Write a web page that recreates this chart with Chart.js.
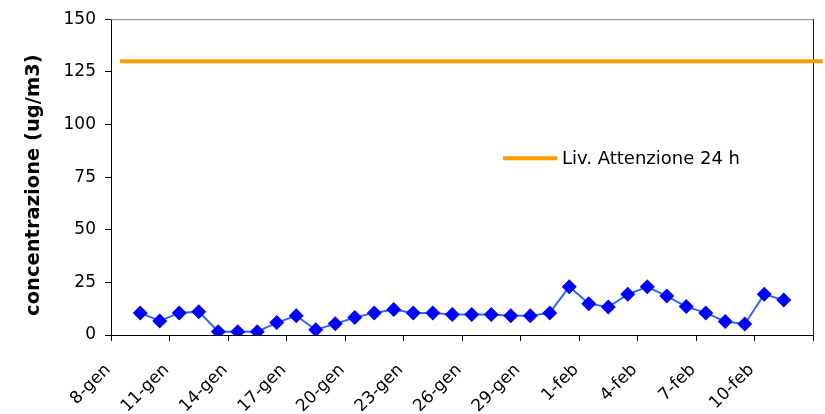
<!DOCTYPE html>
<html>
<head>
<meta charset="utf-8">
<script src="https://cdn.jsdelivr.net/npm/chart.js@4/dist/chart.umd.min.js"></script>
<style>
  html, body { margin: 0; padding: 0; background: #ffffff; }
  #wrap { width: 825px; height: 414px; }
</style>
</head>
<body>
<div id="wrap"><canvas id="chart" width="825" height="414"></canvas></div>
<script>
// Daily PM10 concentrations (ug/m3), 9 January to 11 February
const dates = [
  '9-gen', '10-gen', '11-gen', '12-gen', '13-gen', '14-gen', '15-gen', '16-gen',
  '17-gen', '18-gen', '19-gen', '20-gen', '21-gen', '22-gen', '23-gen', '24-gen',
  '25-gen', '26-gen', '27-gen', '28-gen', '29-gen', '30-gen', '31-gen',
  '1-feb', '2-feb', '3-feb', '4-feb', '5-feb', '6-feb', '7-feb', '8-feb',
  '9-feb', '10-feb', '11-feb'
];
const concentrations = [
  10.5, 6.7, 10.5, 11.1, 1.6, 1.6, 1.6, 5.9,
  9.1, 2.5, 5.3, 8.3, 10.5, 12.1, 10.5, 10.5,
  9.7, 9.7, 9.7, 9.1, 9.1, 10.5, 22.9,
  14.9, 13.3, 19.3, 22.9, 18.5, 13.5, 10.5, 6.4,
  5.2, 19.3, 16.6
];
// Date axis labels, one every three days starting 8-gen
const xTickLabels = [
  '8-gen', '11-gen', '14-gen', '17-gen', '20-gen', '23-gen',
  '26-gen', '29-gen', '1-feb', '4-feb', '7-feb', '10-feb'
];
const yTickValues = [0, 25, 50, 75, 100, 125, 150];
const yAxisTitle = 'concentrazione (ug/m3)';

// 24 h attention threshold
const attentionLevel = 130;
const attentionLabel = 'Liv. Attenzione 24 h';

const FONT = 'DejaVu Sans';
const AXIS_DAYS = 36;      // 8-gen .. 13-feb
const TICK_EVERY = 3;

// Each daily value sits in the middle of its day on the date axis
const dailyPoints = dates.map((d, i) => ({ x: i + 1 + 0.5, y: concentrations[i] }));

// Threshold line runs across the whole plot, slightly past the right frame
const thresholdPoints = [
  { x: 0.46, y: attentionLevel },
  { x: AXIS_DAYS + 0.5, y: attentionLevel }
];

// Plot frame: grey top edge, dark right edge
const framePlugin = {
  id: 'frame',
  beforeDatasetsDraw(chart) {
    const { ctx, chartArea: a } = chart;
    ctx.save();
    ctx.lineWidth = 1;
    ctx.strokeStyle = '#808080';
    ctx.beginPath();
    ctx.moveTo(a.left, a.top + 0.5);
    ctx.lineTo(a.right + 0.5, a.top + 0.5);
    ctx.stroke();
    ctx.strokeStyle = '#202020';
    ctx.beginPath();
    ctx.moveTo(a.right + 0.5, a.top);
    ctx.lineTo(a.right + 0.5, a.bottom);
    ctx.stroke();
    ctx.restore();
  }
};

// Vertical axis title, set slightly below the middle of the plot
const yTitlePlugin = {
  id: 'yTitle',
  afterDraw(chart) {
    const { ctx, chartArea: a } = chart;
    ctx.save();
    ctx.translate(34, (a.top + a.bottom) / 2 + 8);
    ctx.rotate(-Math.PI / 2);
    ctx.fillStyle = '#000000';
    ctx.font = 'bold 19.5px "' + FONT + '"';
    ctx.textAlign = 'center';
    ctx.textBaseline = 'middle';
    ctx.fillText(yAxisTitle, 0, 0);
    ctx.restore();
  }
};

// Legend entry for the threshold, drawn inside the plot area
const insideLegend = {
  id: 'insideLegend',
  afterDatasetsDraw(chart) {
    const ds = chart.data.datasets[1];
    const { ctx, chartArea: a } = chart;
    const lx = a.left + 392;
    const ly = a.top + 139;
    ctx.save();
    ctx.strokeStyle = ds.borderColor;
    ctx.lineWidth = ds.borderWidth;
    ctx.beginPath();
    ctx.moveTo(lx, ly);
    ctx.lineTo(lx + 54, ly);
    ctx.stroke();
    ctx.fillStyle = '#000000';
    ctx.font = '18px "' + FONT + '"';
    ctx.textBaseline = 'middle';
    ctx.textAlign = 'left';
    ctx.fillText(ds.label, lx + 59, ly + 1);
    ctx.restore();
  }
};

new Chart(document.getElementById('chart'), {
  type: 'line',
  data: {
    datasets: [
      {
        label: 'PM10',
        data: dailyPoints,
        borderColor: '#3366ff',
        borderWidth: 2,
        tension: 0,
        pointStyle: 'rectRot',
        pointRadius: 7.5,
        pointBackgroundColor: '#0000ff',
        pointBorderColor: '#0000ff',
        pointBorderWidth: 0
      },
      {
        label: attentionLabel,
        data: thresholdPoints,
        borderColor: '#ff9900',
        borderWidth: 4,
        pointRadius: 0,
        clip: false
      }
    ]
  },
  options: {
    responsive: false,
    animation: false,
    devicePixelRatio: 1,
    layout: { padding: { top: 16, right: 12, left: 0, bottom: 0 } },
    plugins: {
      legend: { display: false },
      tooltip: { enabled: false }
    },
    scales: {
      x: {
        type: 'linear',
        min: 0,
        max: AXIS_DAYS,
        afterBuildTicks(scale) {
          const t = [];
          for (let v = 0; v <= AXIS_DAYS; v += TICK_EVERY) t.push({ value: v });
          scale.ticks = t;
        },
        afterFit(scale) {
          scale.height = 79;
          scale.paddingLeft = 0;
          scale.paddingRight = 0;
        },
        ticks: {
          autoSkip: false,
          minRotation: 45,
          maxRotation: 45,
          padding: 19,
          labelOffset: -3,
          color: '#000000',
          font: { family: FONT, size: 17 },
          callback(value) {
            const idx = Math.round(value / TICK_EVERY);
            return xTickLabels[idx] !== undefined ? xTickLabels[idx] : '';
          }
        },
        grid: { drawOnChartArea: false, drawTicks: true, tickLength: 6, color: '#000000' },
        border: { color: '#000000', width: 1 }
      },
      y: {
        min: 0,
        max: 150,
        afterBuildTicks(scale) {
          scale.ticks = yTickValues.map(v => ({ value: v }));
        },
        afterFit(scale) { scale.width = 111; },
        ticks: {
          padding: 9,
          color: '#000000',
          font: { family: FONT, size: 17 }
        },
        grid: { drawOnChartArea: false, drawTicks: true, tickLength: 6, color: '#000000' },
        border: { color: '#000000', width: 1 },
        title: { display: false }
      }
    }
  },
  plugins: [framePlugin, insideLegend, yTitlePlugin]
});
</script>
</body>
</html>
